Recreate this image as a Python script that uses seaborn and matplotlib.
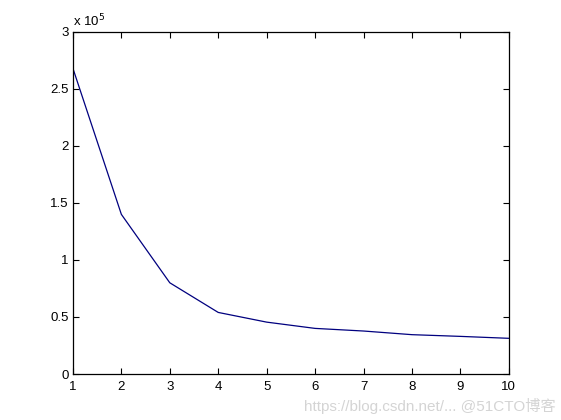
import matplotlib
matplotlib.use("Agg")
import matplotlib.pyplot as plt
import seaborn as sns
import pandas as pd

x_vals = [1, 2, 3, 4, 5, 6, 7, 8, 9, 10]
y_vals = [2.68e5, 1.40e5, 0.80e5, 0.54e5, 0.455e5, 0.40e5, 0.377e5, 0.345e5, 0.33e5, 0.313e5]
y_ticks = [0, 0.5e5, 1e5, 1.5e5, 2e5, 2.5e5, 3e5]
y_tick_labels = ["0", "0.5", "1", "1.5", "2", "2.5", "3"]
x_ticks = [1, 2, 3, 4, 5, 6, 7, 8, 9, 10]

sns.set_theme(style="white")
plt.rcParams['font.family'] = ['Liberation Sans', 'DejaVu Sans']

df = pd.DataFrame({"x": x_vals, "y": y_vals})

fig = plt.figure(figsize=(5.61, 4.2), dpi=100)
ax = fig.add_axes([0.13, 0.1095, 0.777, 0.8145])
sns.lineplot(data=df, x="x", y="y", ax=ax, color="#00007f", linewidth=0.9)

ax.set_xlim(1, 10)
ax.set_ylim(0, 3e5)
ax.set_xticks(x_ticks)
ax.set_xticklabels([str(v) for v in x_ticks], fontsize=9.5)
ax.set_yticks(y_ticks)
ax.set_yticklabels(y_tick_labels, fontsize=9.5)
ax.set_xlabel("")
ax.set_ylabel("")
ax.tick_params(direction="in", length=4, width=0.8, color="black",
               top=True, right=True, bottom=True, left=True,
               labelcolor="black")
ax.tick_params(axis="x", pad=5)
ax.tick_params(axis="y", pad=3)
for s in ax.spines.values():
    s.set_visible(True)
    s.set_color("black")
    s.set_linewidth(0.9)

ax.text(0.0, 1.008, "x 10$^{5}$", transform=ax.transAxes, fontsize=9.5,
        ha="left", va="bottom", color="black")

fig.text(0.99, 0.015, "https://blog.csdn.net/... @51CTO博客", ha="right", va="bottom",
         fontsize=11, color="#d4d4d4",
         family=['Liberation Sans', 'Noto Sans CJK SC', 'DejaVu Sans'])

fig.savefig("out.png", dpi=100, facecolor="white")
